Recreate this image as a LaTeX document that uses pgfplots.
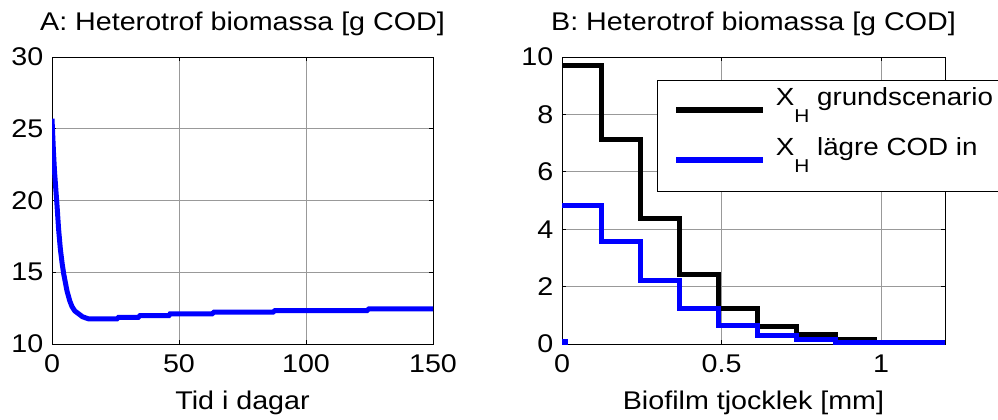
\documentclass[border=0pt]{standalone}
\usepackage{fontspec}
\setmainfont{Liberation Sans}[FakeStretch=1.12]
\usepackage{pgfplots}
\pgfplotsset{compat=1.18}
\newcommand{\tickfont}{\fontsize{12.8bp}{14bp}\selectfont}
\newcommand{\titlefont}{\fontsize{12.8bp}{14bp}\selectfont}
\newcommand{\legfont}{\fontsize{12.4bp}{14bp}\selectfont}
\newcommand{\subfont}{\fontsize{9.3bp}{10bp}\selectfont}
\newcommand{\XH}{X\raisebox{-8.35bp}{\subfont H}}
\pgfplotsset{
  mystyle/.style={
    scale only axis,
    height=143.5bp,
    axis line style={line width=0.5bp},
    grid=major,
    major grid style={line width=0.5bp, black!40},
    tick style={line width=0.5bp, black},
    major tick length=2bp,
    tick align=inside,
    /pgf/number format/assume math mode=true,
    ticklabel style={font=\tickfont},
    xticklabel style={font=\tickfont, anchor=base, yshift=-14.3bp},
    yticklabel style={font=\tickfont, anchor=east, inner sep=0pt, xshift=-4.2bp},
    title style={font=\titlefont, at={(axis description cs:0.5,1)}, anchor=base, yshift=7.2bp},
    xlabel style={font=\tickfont, at={(axis description cs:0.5,0)}, anchor=base, yshift=-32.6bp},
  }
}
\begin{document}
\tickfont
\begin{tikzpicture}
\begin{axis}[
  mystyle,
  at={(0bp,0bp)}, anchor=south west,
  width=190.5bp,
  xmin=0, xmax=150, ymin=10, ymax=30,
  xtick={0,50,100,150}, ytick={10,15,20,25,30},
  title={A: Heterotrof biomassa [g COD]},
  xlabel={Tid i dagar},
]
\addplot[blue, line width=2.5bp] coordinates {
(0,25.7) (0.3,24.5) (0.6,23.3) (1,22.0) (1.5,20.8) (2,19.6) (2.6,18.0) (3.3,16.6)
(4,15.6) (4.6,14.9) (5.9,13.7) (7,13.0) (7.9,12.6) (9,12.3) (10.5,12.1) (12,11.9)
(14.4,11.75) (25.6,11.75) (26.2,11.86) (34,11.86) (34.7,11.98) (46,11.98)
(46.5,12.1) (63,12.1) (63.8,12.22) (87,12.22) (87.8,12.33) (124,12.33)
(124.8,12.45) (150,12.45)
};
\end{axis}
\begin{axis}[
  mystyle,
  at={(255bp,0bp)}, anchor=south west,
  width=191.5bp,
  xmin=0, xmax=1.2, ymin=0, ymax=10,
  xtick={0,0.5,1}, ytick={0,2,4,6,8,10},
  title={B: Heterotrof biomassa [g COD]},
  xlabel={Biofilm tjocklek [mm]},
  legend image code/.code={\draw[#1, line width=3.2bp] (0bp,-2.35bp) -- (43.5bp,-2.35bp);},
  legend style={at={(rel axis cs:0.2473,0.92)}, anchor=north west, draw=black, line width=0.5bp,
    font=\legfont, cells={anchor=base west},
    nodes={inner sep=0pt, text height=9.2bp, text depth=14.55bp},
    inner xsep=8bp, inner ysep=3.3bp, row sep=1.25bp, column sep=4.6bp},
]
\addplot[black, line width=2.5bp, const plot] coordinates {
(0,9.69) (0.1225,7.13) (0.245,4.39) (0.3675,2.42) (0.49,1.25) (0.6125,0.62)
(0.735,0.34) (0.8575,0.15) (0.98,0.06) (1.2,0.06)
};
\addlegendentry{\XH\ grundscenario}
\addplot[blue, line width=2.5bp, const plot] coordinates {
(0,4.82) (0.1225,3.58) (0.245,2.22) (0.3675,1.22) (0.49,0.63) (0.6125,0.29)
(0.735,0.15) (0.8575,0.06) (1.2,0.06)
};
\addlegendentry{\XH\ lägre COD in}
\addplot[blue, only marks, mark=square*, mark size=1.25bp, forget plot] coordinates {(0.008,0.08)};
\end{axis}
\pgfresetboundingbox
\useasboundingbox (-26bp,-38bp) rectangle (473bp,172bp);
\end{tikzpicture}
\end{document}
